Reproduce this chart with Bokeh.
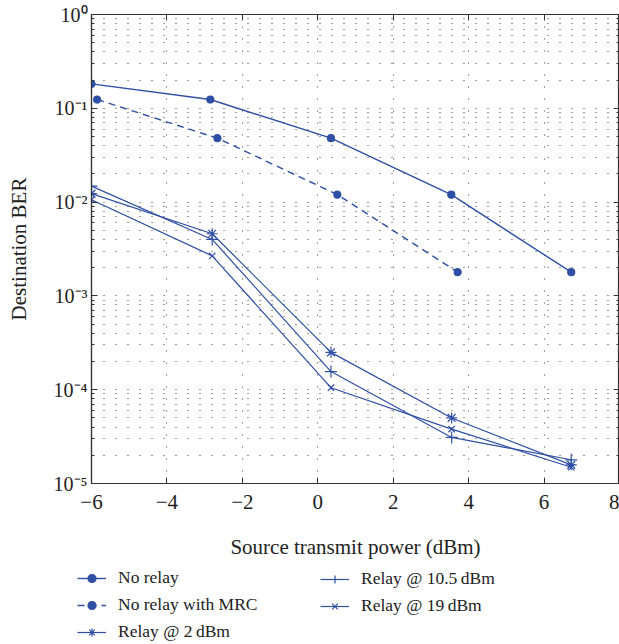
from bokeh.plotting import figure
from bokeh.layouts import column, row
from bokeh.models import (Range1d, LinearAxis, LogAxis, FixedTicker, Legend, LegendItem,
                          CustomJSTickFormatter)
from bokeh.embed import file_html
from bokeh.resources import INLINE

# ---------------- data ----------------
x_norelay = [-6.0, -2.85, 0.35, 3.54, 6.72]
ber_norelay = [0.182, 0.124, 0.048, 0.0120, 0.00179]

x_mrc = [-5.85, -2.66, 0.52, 3.71]
ber_mrc = [0.124, 0.048, 0.0120, 0.00179]

x_relay = [-6.0, -2.8, 0.35, 3.55, 6.72]
ber_relay_2 = [0.0123, 0.0046, 2.5e-4, 5.0e-5, 1.58e-5]
ber_relay_105 = [0.0148, 0.0040, 1.56e-4, 3.1e-5, 1.79e-5]
ber_relay_19 = [0.0106, 0.00267, 1.05e-4, 3.8e-5, 1.49e-5]

x_ticks = [-6, -4, -2, 0, 2, 4, 6, 8]
y_ticks = [1e-5, 1e-4, 1e-3, 1e-2, 1e-1, 1.0]
y_tick_labels = ["10\u207b\u2075", "10\u207b\u2074", "10\u207b\u00b3", "10\u207b\u00b2", "10\u207b\u00b9", "10\u2070"]
y_minor = [m * 10.0 ** e for e in range(-5, 0) for m in range(2, 10)]

labels = ["No relay", "No relay with MRC", "Relay @ 2\u2009dBm", "Relay @ 10.5\u2009dBm", "Relay @ 19\u2009dBm"]

# ---------------- styling ----------------
BLUE = "#2E4FA5"
FONT = "Liberation Serif"
TXT = "#222222"

p = figure(width=619, height=565, x_range=Range1d(-6, 8), y_range=Range1d(1e-5, 1),
           y_axis_type="log", output_backend="svg", toolbar_location=None,
           min_border_left=91, min_border_right=0, min_border_top=14, min_border_bottom=82)
p.background_fill_color = "white"
p.border_fill_color = "white"
p.outline_line_color = "#333333"
p.outline_line_width = 1.2

xt = FixedTicker(ticks=x_ticks)
yt = FixedTicker(ticks=y_ticks, minor_ticks=y_minor)
yfmt = CustomJSTickFormatter(args=dict(yvals=y_ticks, ylabels=y_tick_labels), code="""
let best = 0, d = 1e9;
for (let i = 0; i < yvals.length; i++) {
  const dd = Math.abs(Math.log10(tick) - Math.log10(yvals[i]));
  if (dd < d) { d = dd; best = i; }
}
return ylabels[best];
""")
xfmt = CustomJSTickFormatter(code="return tick < 0 ? '\u2212' + Math.abs(tick) : String(tick);")
blank = CustomJSTickFormatter(code="return '';")

for ax in p.xaxis:
    ax.ticker = xt
    ax.formatter = xfmt
for ax in p.yaxis:
    ax.ticker = yt
    ax.formatter = yfmt

def style_axis(ax, minor=True):
    ax.axis_line_color = "#333333"
    ax.axis_line_width = 1.2
    ax.major_tick_in = 6
    ax.major_tick_out = 0
    ax.major_tick_line_color = "#333333"
    ax.minor_tick_in = 3 if minor else 0
    ax.minor_tick_out = 0
    ax.minor_tick_line_color = "#333333" if minor else None
    ax.major_label_text_font = FONT
    ax.major_label_text_font_size = "21px"
    ax.major_label_text_color = TXT
    ax.axis_label_text_font = FONT
    ax.axis_label_text_font_size = "21px"
    ax.axis_label_text_font_style = "normal"
    ax.axis_label_text_color = TXT

style_axis(p.xaxis[0], minor=False)
style_axis(p.yaxis[0], minor=True)
p.yaxis.major_label_text_font_size = "20px"
p.xaxis.axis_label = "Source transmit power (dBm)"
p.yaxis.axis_label = "Destination BER"
p.xaxis.major_label_standoff = 11
p.xaxis.axis_label_standoff = 23
p.yaxis.major_label_standoff = 4
p.yaxis.axis_label_standoff = 20

top = LinearAxis(ticker=xt, formatter=blank, major_label_standoff=0)
style_axis(top, minor=False)
top.major_label_text_font_size = "0px"
p.add_layout(top, "above")
right = LogAxis(ticker=yt, formatter=blank, major_label_standoff=0)
style_axis(right, minor=True)
right.major_label_text_font_size = "0px"
p.add_layout(right, "right")

# grid: dotted lines
p.xgrid.ticker = xt
p.ygrid.ticker = yt
for g in (p.xgrid[0], p.ygrid[0]):
    g.grid_line_color = "black"
    g.grid_line_alpha = 0.75
    g.grid_line_width = 1
    g.grid_line_dash = "1 11"
p.ygrid.minor_grid_line_color = "black"
p.ygrid.minor_grid_line_alpha = 0.75
p.ygrid.minor_grid_line_dash = "1 11"

# ---------------- series ----------------
series = [
    (x_norelay, ber_norelay, dict(marker="circle", size=7, fill_color=BLUE), "solid", 1.4),
    (x_mrc, ber_mrc, dict(marker="circle", size=7, fill_color=BLUE), "7 5", 1.4),
    (x_relay, ber_relay_2, dict(marker="asterisk", size=11), "solid", 1.2),
    (x_relay, ber_relay_105, dict(marker="cross", size=12), "solid", 1.2),
    (x_relay, ber_relay_19, dict(marker="x", size=9), "solid", 1.2),
]

def draw(fig):
    out = []
    for xs, ys, mk, dash, lw in series:
        ln = fig.line(xs, ys, line_color=BLUE, line_width=lw, line_dash=dash)
        sc = fig.scatter(xs, ys, line_color=BLUE, line_width=1.2, **mk)
        out.append([ln, sc])
    return out

draw(p)

# ---------------- legend strip (separate figure below the plot) ----------------
pl = figure(width=619, height=79, x_range=Range1d(100, 101), y_range=Range1d(100, 101),
            output_backend="svg", toolbar_location=None,
            x_axis_location=None, y_axis_location=None, min_border=0)
pl.grid.visible = False
pl.outline_line_color = None
pl.background_fill_color = "white"
pl.border_fill_color = "white"
rends = draw(pl)

def make_legend(idx, loc):
    leg = Legend(items=[LegendItem(label=labels[i], renderers=rends[i]) for i in idx],
                 location=loc, orientation="vertical", padding=0, margin=0, spacing=6,
                 label_height=20, glyph_height=20, glyph_width=29, label_standoff=12,
                 border_line_color=None, background_fill_alpha=0,
                 label_text_font=FONT, label_text_font_size="17.5px", label_text_color=TXT)
    pl.add_layout(leg, "center")

make_legend([0, 1, 2], (77, 2))
make_legend([3, 4], (320, 28))

open("out.html", "w").write(file_html(column(p, row(pl), spacing=0), INLINE))
